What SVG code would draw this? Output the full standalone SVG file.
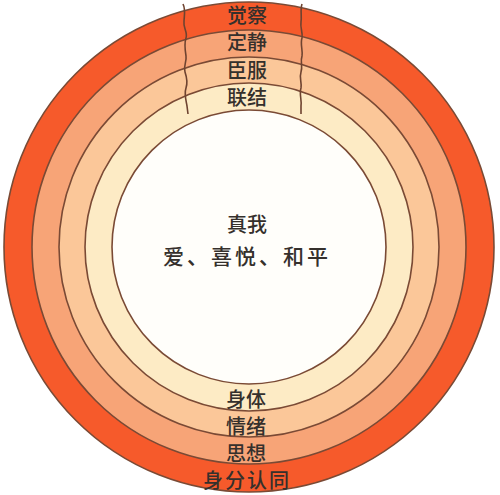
<svg xmlns="http://www.w3.org/2000/svg" width="500" height="495" viewBox="0 0 500 495">
<style>
.ring{stroke:#7a4a35;stroke-width:1.6}
.lbl{font-family:"Noto Sans CJK SC","Noto Sans CJK JP",sans-serif;font-size:20px;font-weight:500;fill:#35302c;text-anchor:middle}
.wave{fill:none;stroke:#6e4330;stroke-width:1.6}
</style>
<rect width="500" height="495" fill="#ffffff"/>
<g id="rings">
<circle id="ring-identity" class="ring" cx="249" cy="247" r="245" fill="#f65a2b"/>
<circle id="ring-thought" class="ring" cx="249" cy="247" r="217" fill="#f7a477"/>
<circle id="ring-emotion" class="ring" cx="249" cy="247" r="190" fill="#fbc799"/>
<circle id="ring-body" class="ring" cx="249" cy="247" r="164" fill="#fdebc5"/>
<circle id="core" class="ring" cx="249" cy="247" r="137" fill="#fffefa"/>
</g>
<g id="connectors">
<path class="wave" d="M183,4 C186,10 184,16 184,22 C183,28 188,32 186,38 C184,44 185,50 186,56 C187,62 183,66 185,72 C187,78 188,82 186,88 C184,94 186,100 187,106 L188,114"/>
<path class="wave" d="M302,4 C300,10 302,16 301,22 C300,28 303,32 302,38 C300,44 303,50 302,56 C300,62 303,66 301,72 C299,78 302,82 301,88 C299,94 302,100 301,106 L301,114"/>
</g>
<g id="labels">
<text class="lbl" x="247" y="23">觉察</text>
<text class="lbl" x="247" y="50">定静</text>
<text class="lbl" x="247" y="78">臣服</text>
<text class="lbl" x="247" y="105">联结</text>
<text class="lbl" x="247" y="232">真我</text>
<text class="lbl" x="247" y="264" style="font-size:21px;letter-spacing:3px">爱、喜悦、和平</text>
<text class="lbl" x="246" y="407">身体</text>
<text class="lbl" x="246" y="434">情绪</text>
<text class="lbl" x="246" y="461">思想</text>
<text class="lbl" x="247" y="488" style="letter-spacing:2px">身分认同</text>
</g>
</svg>
